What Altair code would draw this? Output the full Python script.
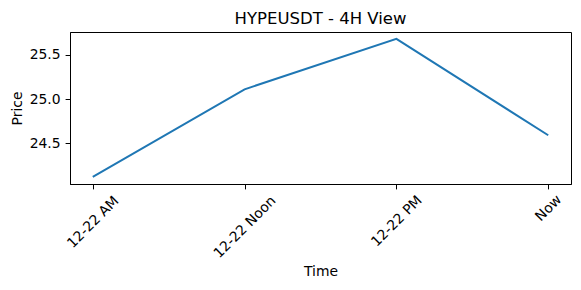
import altair as alt
import pandas as pd

times = ["12-22 AM", "12-22 Noon", "12-22 PM", "Now"]
prices = [24.12, 25.11, 25.68, 24.59]

df = pd.DataFrame({"Time": times, "Price": prices})

FONT = "DejaVu Sans"

pad_cond = {
    "condition": [
        {"test": "datum.value == '12-22 AM'", "value": 33},
        {"test": "datum.value == '12-22 Noon'", "value": 38},
        {"test": "datum.value == '12-22 PM'", "value": 32},
    ],
    "value": 19,
}

chart = (
    alt.Chart(df)
    .mark_line(color="#1f77b4", strokeWidth=2)
    .encode(
        x=alt.X(
            "Time:N",
            sort=times,
            scale=alt.Scale(type="point", padding=0.15),
            axis=alt.Axis(
                title="Time",
                labelAngle=-45,
                labelAlign="center",
                labelBaseline="middle",
                labelPadding=pad_cond,
                labelOverlap=False,
                titleY=87,
                titleBaseline="middle",
            ),
        ),
        y=alt.Y(
            "Price:Q",
            scale=alt.Scale(domain=[24.039, 25.758], nice=False, zero=False),
            axis=alt.Axis(
                title="Price",
                values=[24.5, 25.0, 25.5],
                format=".1f",
                labelPadding=5,
                titleX=-53,
                titleY=76,
                titleBaseline="middle",
            ),
        ),
    )
    .properties(
        width=501,
        height=152,
        background="white",
        autosize=alt.AutoSizeParams(type="none"),
        padding={"left": 70, "top": 32, "right": 10, "bottom": 106},
        title=alt.TitleParams(
            "HYPEUSDT - 4H View",
            font=FONT,
            fontSize=16.5,
            fontWeight="normal",
            color="black",
            baseline="bottom",
            offset=5,
            dy=16,
        ),
    )
    .configure_view(stroke="black", strokeWidth=1)
    .configure_axis(
        grid=False,
        domainColor="black",
        tickColor="black",
        tickSize=4.9,
        labelFont=FONT,
        labelFontSize=13.9,
        labelColor="black",
        titleFont=FONT,
        titleFontSize=13.9,
        titleFontWeight="normal",
        titleColor="black",
    )
)

chart.save("out.html", embed_options={"renderer": "svg", "actions": False})
